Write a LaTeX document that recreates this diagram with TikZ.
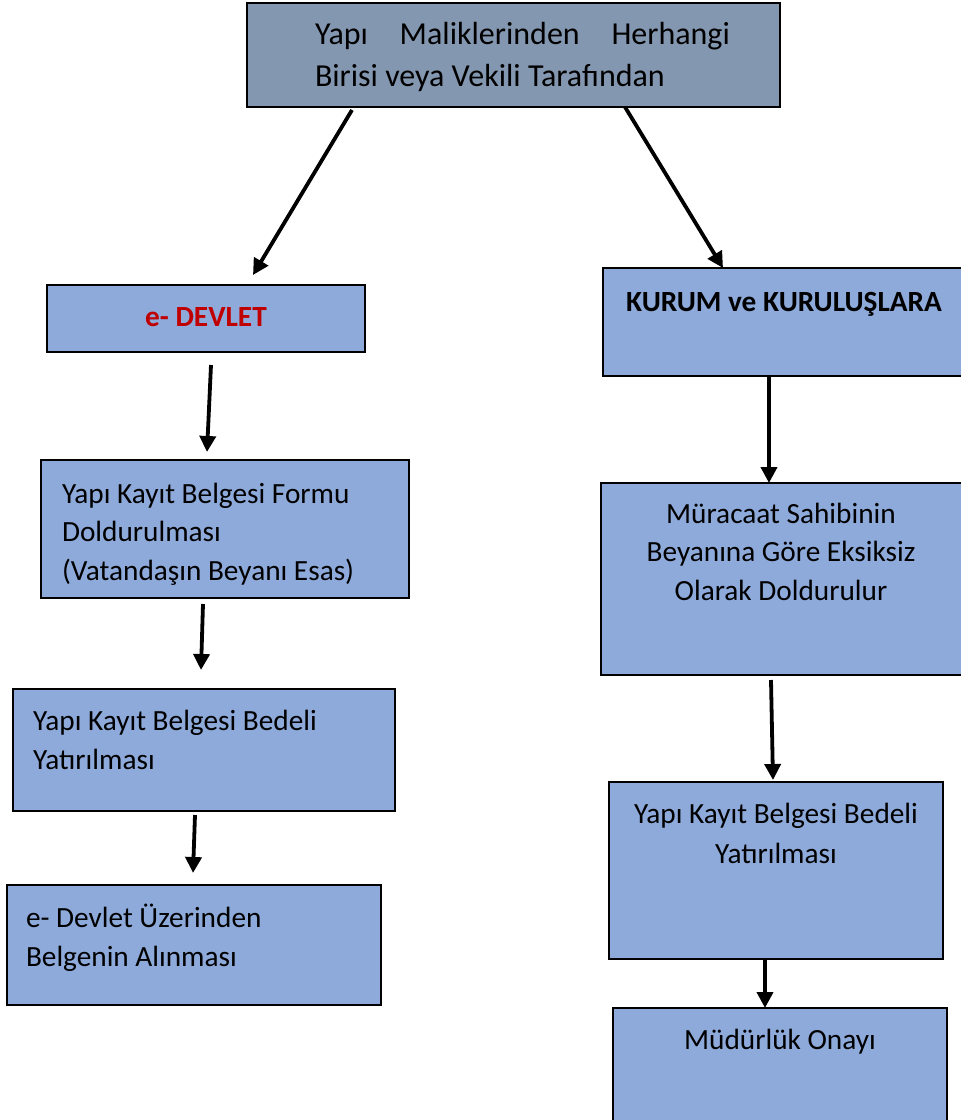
\documentclass[tikz,border=0pt]{standalone}
\usepackage{fontspec}
\setmainfont{Carlito}
\usetikzlibrary{arrows.meta,calc}
\definecolor{topfill}{HTML}{8497B0}
\definecolor{boxfill}{HTML}{8EAADB}
\definecolor{devred}{HTML}{C00000}
\begin{document}
\begin{tikzpicture}[x=1pt,y=-1pt,
  box/.style={draw=black,line width=1.4pt,fill=boxfill,anchor=north west,inner sep=0pt,outer sep=0pt},
  topbox/.style={box,fill=topfill},
  txt/.style={inner sep=0pt,outer sep=0pt,font=\fontsize{29.3}{38.5}\selectfont},
  ltxt/.style={txt,align=left,anchor=base west},
  ctxt/.style={txt,align=center,anchor=base},
  arr/.style={line width=3.8pt,-{Triangle[width=16pt,length=16pt]}}]
\useasboundingbox (0,0) rectangle (961,1120);
% boxes
\node[topbox,minimum width=533pt,minimum height=104pt] (top) at (247,3) {};
\node[box,minimum width=318pt,minimum height=67pt] (edev) at (47,285) {};
\node[box,minimum width=360pt,minimum height=108pt] (kurum) at (603,268) {};
\node[box,minimum width=368pt,minimum height=138pt] (form) at (41,460) {};
\node[box,minimum width=362pt,minimum height=192pt] (mur) at (601,483) {};
\node[box,minimum width=382pt,minimum height=122pt] (bedelL) at (13,689) {};
\node[box,minimum width=334pt,minimum height=177pt] (bedelR) at (609,782) {};
\node[box,minimum width=374pt,minimum height=120pt] (alin) at (7,885) {};
\node[box,minimum width=334pt,minimum height=114pt] (onay) at (613,1008) {};
% texts (base anchor = baseline of last line)
\node[ltxt,font=\fontsize{32}{42}\selectfont] (ttop) at (315,86)
  {\hbox to 415pt{Yapı\hfill Maliklerinden\hfill Herhangi}\\Birisi veya Vekili Tarafından};
\node[ctxt,font=\fontsize{29.3}{38.5}\selectfont\bfseries,text=devred] (tedev) at (206,326) {e- DEVLET};
\node[ctxt,font=\fontsize{29.3}{38.5}\selectfont\bfseries] (tkurum) at (784,311) {KURUM ve KURULUŞLARA};
\node[ltxt] (tform) at (62,580) {Yapı Kayıt Belgesi Formu\\Doldurulması\\(Vatandaşın Beyanı Esas)};
\node[ctxt] (tmur) at (781,600) {Müracaat Sahibinin\\Beyanına Göre Eksiksiz\\Olarak Doldurulur};
\node[ltxt] (tbedelL) at (33,769) {Yapı Kayıt Belgesi Bedeli\\Yatırılması};
\node[ltxt] (talin) at (26,966) {e- Devlet Üzerinden\\Belgenin Alınması};
\node[ctxt,font=\fontsize{29.3}{40}\selectfont] (tbedelR) at (776,863) {Yapı Kayıt Belgesi Bedeli\\Yatırılması};
\node[ctxt] (tonay) at (780,1049) {Müdürlük Onayı};
% arrows
\draw[arr] ($(top.south west)+(105,3)$) -- ($(edev.north west)+(206,-10)$);
\draw[arr] ($(top.south west)+(378,0)$) -- ($(kurum.north west)+(120,0)$);
\draw[arr] ($(edev.south west)+(164,13)$) -- ($(form.north west)+(166,-8)$);
\draw[arr] ($(kurum.south west)+(166,0)$) -- ($(mur.north west)+(168,0)$);
\draw[arr] ($(form.south west)+(162,6)$) -- ($(bedelL.north west)+(188,-19)$);
\draw[arr] ($(mur.south west)+(170,5)$) -- ($(bedelR.north west)+(164,-2)$);
\draw[arr] ($(bedelL.south west)+(182,4)$) -- ($(alin.north west)+(186,-12)$);
\draw[arr] ($(bedelR.south west)+(156,1)$) -- ($(onay.north west)+(152,0)$);
\end{tikzpicture}
\end{document}
